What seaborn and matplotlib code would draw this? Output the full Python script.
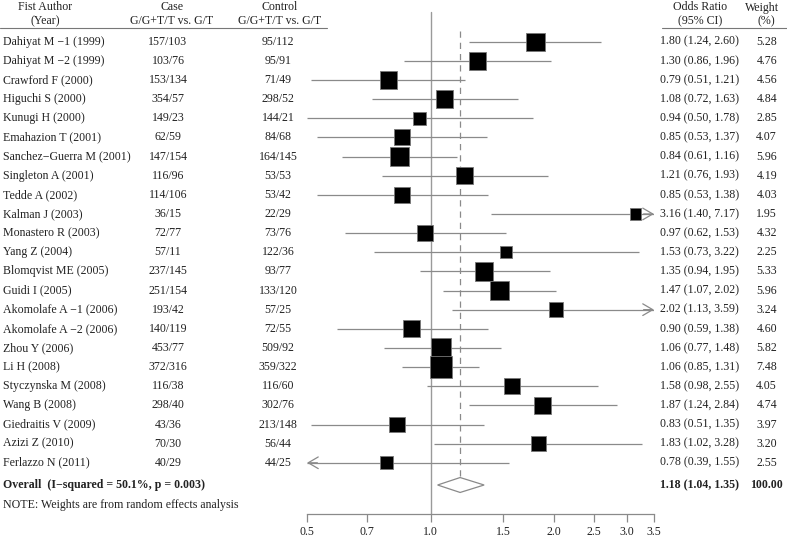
import numpy as np
import pandas as pd
import matplotlib
matplotlib.use("Agg")
import matplotlib.pyplot as plt
import seaborn as sns
from matplotlib.transforms import blended_transform_factory

# ---------------- data ----------------
authors = ["Dahiyat M \u22121 (1999)", "Dahiyat M \u22122 (1999)", "Crawford F (2000)",
           "Higuchi S (2000)", "Kunugi H (2000)", "Emahazion T (2001)",
           "Sanchez\u2212Guerra M (2001)", "Singleton A (2001)", "Tedde A (2002)",
           "Kalman J (2003)", "Monastero R (2003)", "Yang Z (2004)",
           "Blomqvist ME (2005)", "Guidi I (2005)", "Akomolafe A \u22121 (2006)",
           "Akomolafe A \u22122 (2006)", "Zhou Y (2006)", "Li H (2008)",
           "Styczynska M (2008)", "Wang B (2008)", "Giedraitis V (2009)",
           "Azizi Z (2010)", "Ferlazzo N (2011)"]
case_counts = ["157/103", "103/76", "153/134", "354/57", "149/23", "62/59", "147/154",
               "116/96", "114/106", "36/15", "72/77", "57/11", "237/145", "251/154",
               "193/42", "140/119", "453/77", "372/316", "116/38", "298/40", "43/36",
               "70/30", "40/29"]
control_counts = ["95/112", "95/91", "71/49", "298/52", "144/21", "84/68", "164/145",
                  "53/53", "53/42", "22/29", "73/76", "122/36", "93/77", "133/120",
                  "57/25", "72/55", "509/92", "359/322", "116/60", "302/76", "213/148",
                  "56/44", "44/25"]
odds_ratio = [1.80, 1.30, 0.79, 1.08, 0.94, 0.85, 0.84, 1.21, 0.85, 3.16, 0.97, 1.53,
              1.35, 1.47, 2.02, 0.90, 1.06, 1.06, 1.58, 1.87, 0.83, 1.83, 0.78]
ci_low = [1.24, 0.86, 0.51, 0.72, 0.50, 0.53, 0.61, 0.76, 0.53, 1.40, 0.62, 0.73,
          0.94, 1.07, 1.13, 0.59, 0.77, 0.85, 0.98, 1.24, 0.51, 1.02, 0.39]
ci_high = [2.60, 1.96, 1.21, 1.63, 1.78, 1.37, 1.16, 1.93, 1.38, 7.17, 1.53, 3.22,
           1.95, 2.02, 3.59, 1.38, 1.48, 1.31, 2.55, 2.84, 1.35, 3.28, 1.55]
weights = [5.28, 4.76, 4.56, 4.84, 2.85, 4.07, 5.96, 4.19, 4.03, 1.95, 4.32, 2.25,
           5.33, 5.96, 3.24, 4.60, 5.82, 7.48, 4.05, 4.74, 3.97, 3.20, 2.55]
overall_or, overall_low, overall_high = 1.18, 1.04, 1.35
overall_label = "Overall  (I\u2212squared = 50.1%, p = 0.003)"
overall_weight = "100.00"
note = "NOTE: Weights are from random effects analysis"
x_ticks = [0.5, 0.7, 1.0, 1.5, 2.0, 2.5, 3.0, 3.5]
x_tick_labels = ["0.5", "0.7", "1.0", "1.5", "2.0", "2.5", "3.0", "3.5"]
x_min, x_max = 0.5, 3.5

df = pd.DataFrame({"author": authors, "case": case_counts, "control": control_counts,
                   "or": odds_ratio, "lo": ci_low, "hi": ci_high, "w": weights})
df["row"] = np.arange(len(df))

# ---------------- style ----------------
sns.set_theme(style="white")
plt.rcParams["font.family"] = ["Liberation Serif", "DejaVu Serif"]
FS = 8.6
TXT = "#222222"
GREY = "#8a8a8a"

W, H = 787, 538
fig = plt.figure(figsize=(W / 100, H / 100), dpi=100)
fig.patch.set_facecolor("white")

row0_px, row_step = 41.7, 19.14
ax_left_px, ax_right_px, ax_bottom_px = 307, 654, 514
ax = fig.add_axes([ax_left_px / W, 1 - ax_bottom_px / H,
                   (ax_right_px - ax_left_px) / W, ax_bottom_px / H])
ax.set_facecolor("none")
ax.set_xscale("log")
ax.set_xlim(x_min, x_max)
r_top = -row0_px / row_step
r_bot = (ax_bottom_px - row0_px) / row_step
ax.set_ylim(r_bot, r_top)

def px2row(py):
    return (py - row0_px) / row_step

# reference lines
ax.plot([1.0, 1.0], [px2row(12), r_bot], color="#9a9a9a", lw=1.0, zorder=1)
r_over = px2row(485)
ax.plot([overall_or, overall_or], [px2row(31), r_over - 0.4], color="#8a8a8a",
        lw=0.9, ls=(0, (5, 4)), zorder=1)

# CI lines with arrows
for _, d in df.iterrows():
    lo = max(d.lo, x_min)
    hi = min(d.hi, x_max)
    ax.plot([lo, hi], [d.row, d.row], color=GREY, lw=0.9, zorder=2,
            solid_capstyle="butt")
    if d.hi > x_max:
        ax.annotate("", xy=(x_max, d.row), xytext=(x_max / 1.06, d.row),
                    arrowprops=dict(arrowstyle="->,head_length=0.6,head_width=0.35",
                                    color=GREY, lw=0.9, shrinkA=0, shrinkB=0))
    if d.lo < x_min:
        ax.annotate("", xy=(x_min, d.row), xytext=(x_min * 1.06, d.row),
                    arrowprops=dict(arrowstyle="->,head_length=0.6,head_width=0.35",
                                    color=GREY, lw=0.9, shrinkA=0, shrinkB=0))

# weighted squares
k = 33.2  # area (pt^2) per weight %
wmin, wmax = min(weights), max(weights)
sns.scatterplot(data=df, x="or", y="row", size="w", sizes=(k * wmin, k * wmax),
                size_norm=(wmin, wmax), marker="s", color="black",
                edgecolor="#777777", linewidth=0.6, legend=False, ax=ax, zorder=3)

# overall diamond
dh = 0.39
ax.fill([overall_low, overall_or, overall_high, overall_or],
        [r_over, r_over - dh, r_over, r_over + dh],
        facecolor="white", edgecolor="#8a8a8a", lw=0.9, zorder=3)

# axes styling
for s in ["top", "left", "right"]:
    ax.spines[s].set_visible(False)
ax.spines["bottom"].set_color("#8a8a8a")
ax.spines["bottom"].set_linewidth(0.9)
ax.set_xticks(x_ticks)
ax.set_xticklabels(x_tick_labels)
ax.xaxis.set_minor_locator(matplotlib.ticker.NullLocator())
ax.tick_params(axis="x", direction="out", length=5.5, width=0.9, color="#8a8a8a",
               labelsize=FS, labelcolor=TXT, pad=3, bottom=True)
ax.set_yticks([])
ax.set_xlabel("")
ax.set_ylabel("")

# ---------------- text columns ----------------
tr = blended_transform_factory(fig.transFigure, ax.transData)
def fx(px):
    return px / W

x_author, x_case, x_ctrl, x_or, x_w = 3, 168, 278, 660, 777
hdr1, hdr2 = px2row(7.5), px2row(21.5)
kw = dict(transform=tr, fontsize=FS, color=TXT, va="center", clip_on=False)

ax.text(fx(45), hdr1, "Fist Author", ha="center", **kw)
ax.text(fx(45), hdr2, "(Year)", ha="center", **kw)
ax.text(fx(172), hdr1, "Case", ha="center", **kw)
ax.text(fx(172), hdr2, "G/G+T/T vs. G/T", ha="center", **kw)
ax.text(fx(280), hdr1, "Control", ha="center", **kw)
ax.text(fx(280), hdr2, "G/G+T/T vs. G/T", ha="center", **kw)
ax.text(fx(700), hdr1, "Odds Ratio", ha="center", **kw)
ax.text(fx(700), hdr2, "(95% CI)", ha="center", **kw)
ax.text(fx(762), hdr1, "Weight", ha="center", **kw)
ax.text(fx(766), hdr2, "(%)", ha="center", **kw)

line_r = px2row(27.7)
ax.plot([0, fx(327)], [line_r, line_r], transform=tr, color="#777777", lw=0.8,
        clip_on=False)
ax.plot([fx(662), 1], [line_r, line_r], transform=tr, color="#777777", lw=0.8,
        clip_on=False)

for _, d in df.iterrows():
    ax.text(fx(x_author), d.row, d.author, ha="left", **kw)
    ax.text(fx(x_case), d.row, d.case, ha="center", **kw)
    ax.text(fx(x_ctrl), d.row, d.control, ha="center", **kw)
    ax.text(fx(x_or), d.row, f"{d['or']:.2f} ({d.lo:.2f}, {d.hi:.2f})", ha="left", **kw)
    ax.text(fx(x_w), d.row, f"{d.w:.2f}", ha="right", **kw)

ax.text(fx(x_author), r_over, overall_label, ha="left", fontweight="bold", **kw)
ax.text(fx(x_or), r_over,
        f"{overall_or:.2f} ({overall_low:.2f}, {overall_high:.2f})",
        ha="left", fontweight="bold", **kw)
ax.text(fx(783), r_over, overall_weight, ha="right", fontweight="bold", **kw)
ax.text(fx(x_author), px2row(505), note, ha="left", **kw)

fig.savefig("out.png", dpi=100, facecolor="white")
